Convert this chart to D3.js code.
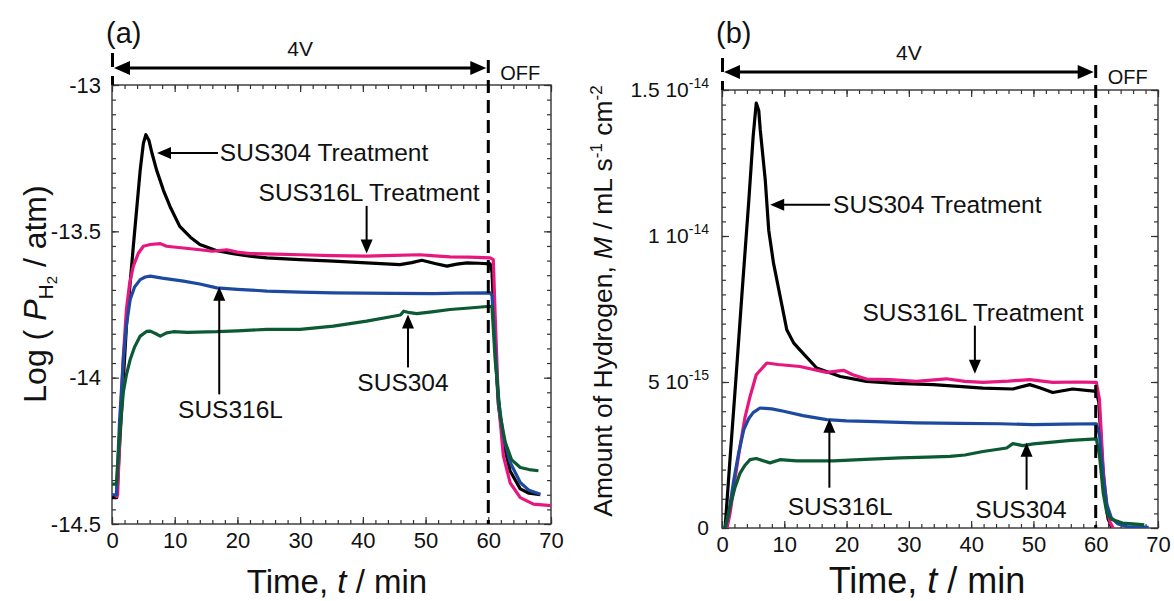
<!DOCTYPE html>
<html>
<head>
<meta charset="utf-8">
<script src="https://cdn.jsdelivr.net/npm/d3@7"></script>
<style>
body { margin: 0; background: #fff; }
svg text { font-family: Arial, "Liberation Sans", sans-serif; fill: #111; }
</style>
</head>
<body>
<svg width="1174" height="601"></svg>
<script>
// ---- panel (a): log partial pressure of H2 ----
const tA_304T = [0, 0.75, 1.5, 2.3, 3.4, 4.5, 5.0, 5.4, 5.9, 6.4, 7.1, 8.2, 9.25, 10.8, 12.5, 14, 16.5, 19.3, 22, 24.7, 30, 35.3, 40.6, 45.9, 47.8, 49.4, 51.5, 53.4, 55, 56.6, 58.5, 60.3, 60.6, 61.1, 61.6, 62.4, 63.5, 65.1, 66.5, 68.3];
const vA_304T = [-14.41, -14.41, -14.12, -13.824, -13.551, -13.29, -13.2, -13.17, -13.19, -13.235, -13.29, -13.36, -13.415, -13.483, -13.52, -13.545, -13.565, -13.576, -13.585, -13.591, -13.597, -13.602, -13.608, -13.614, -13.607, -13.599, -13.61, -13.619, -13.612, -13.608, -13.609, -13.611, -13.64, -13.9, -14.09, -14.22, -14.32, -14.38, -14.395, -14.40];
const tA_316LT = [0.6, 0.9, 1.3, 1.8, 2.3, 2.8, 3.4, 4.2, 5, 6.1, 7.7, 8.7, 11, 14, 16, 18.3, 20, 22, 26, 30, 35, 40.6, 45, 49.1, 51.5, 53.9, 57, 60.3, 60.8, 61.1, 61.6, 62.4, 63.5, 65.1, 67.2, 70];
const vA_316LT = [-14.41, -14.4, -14.165, -13.93, -13.767, -13.68, -13.619, -13.575, -13.551, -13.545, -13.542, -13.551, -13.556, -13.563, -13.568, -13.563, -13.571, -13.576, -13.578, -13.58, -13.583, -13.585, -13.582, -13.58, -13.584, -13.587, -13.588, -13.591, -13.597, -13.79, -14.074, -14.267, -14.36, -14.41, -14.432, -14.437];
const tA_316L = [0, 0.7, 1.2, 1.8, 2.3, 2.9, 3.6, 4.5, 5.3, 6.1, 8, 11.4, 14, 16.7, 20, 24.7, 30, 35.3, 40, 45, 51.3, 55, 60.3, 60.6, 61.1, 61.6, 62.4, 63.5, 65.1, 66.5, 68.3];
const vA_316L = [-14.40, -14.40, -14.15, -13.938, -13.82, -13.733, -13.69, -13.665, -13.656, -13.653, -13.66, -13.67, -13.68, -13.693, -13.698, -13.704, -13.708, -13.71, -13.711, -13.712, -13.713, -13.711, -13.71, -13.72, -13.90, -14.07, -14.20, -14.29, -14.358, -14.385, -14.398];
const tA_304 = [0, 0.7, 1.2, 1.8, 2.3, 2.9, 3.6, 4.5, 5.5, 6.1, 7.0, 7.7, 8.7, 9.8, 12, 16.7, 20, 24.7, 30, 35.3, 40.6, 44.9, 46.0, 46.5, 47.5, 48.6, 51, 53.9, 57, 60.3, 60.6, 61.1, 61.9, 62.7, 63.7, 65.1, 66.5, 68];
const vA_304 = [-14.364, -14.364, -14.2, -14.05, -13.99, -13.938, -13.895, -13.858, -13.842, -13.841, -13.85, -13.858, -13.847, -13.843, -13.845, -13.843, -13.84, -13.835, -13.835, -13.824, -13.807, -13.79, -13.786, -13.773, -13.778, -13.781, -13.775, -13.767, -13.762, -13.756, -13.76, -13.94, -14.13, -14.22, -14.28, -14.307, -14.314, -14.318];

// ---- panel (b): amount of hydrogen, in units of 1e-15 ----
const tB_304T = [0, 0.5, 1.3, 2.2, 3.2, 4.3, 5.0, 5.5, 5.9, 6.14, 6.94, 7.5, 8.27, 9.34, 10.4, 11.5, 12.5, 15.2, 19, 23.2, 28, 33.9, 38, 41.9, 46.7, 49.4, 51, 53.1, 56.3, 60.1, 60.5, 61.0, 61.5, 62.0, 62.6];
const vB_304T = [0, 0, 2.4, 5.0, 8.0, 11.2, 13.4, 14.55, 14.3, 13.64, 11.93, 10.2, 9.07, 7.93, 6.79, 6.34, 6.1, 5.48, 5.19, 5.02, 4.95, 4.91, 4.85, 4.79, 4.76, 4.91, 4.8, 4.64, 4.76, 4.68, 4.3, 2.5, 1.0, 0.3, 0];
const tB_316LT = [0, 0.8, 1.3, 2.1, 2.9, 3.7, 4.5, 5.5, 7.2, 9, 12.5, 16.8, 19.5, 21, 23.2, 27, 31.2, 36, 39, 41.9, 46, 49.4, 53.1, 57, 60.1, 60.6, 61.2, 61.8, 62.3, 62.8];
const vB_316LT = [0, 0, 0.51, 1.7, 2.8, 3.8, 4.5, 5.25, 5.65, 5.6, 5.53, 5.33, 5.4, 5.25, 5.1, 5.08, 5.02, 5.11, 5.02, 4.99, 5.03, 5.08, 4.99, 5.0, 4.99, 4.4, 2.0, 0.7, 0.2, 0];
const tB_316L = [0, 0.5, 1.0, 1.9, 2.7, 3.5, 4.3, 5, 6.1, 8, 9.9, 13, 16.8, 20, 23.2, 31.2, 38, 44.6, 49.9, 55, 60.1, 60.6, 61.2, 61.8, 62.5, 63.5, 65, 68.5];
const vB_316L = [0, 0, 0.4, 1.65, 2.6, 3.37, 3.75, 3.95, 4.11, 4.08, 4.0, 3.85, 3.71, 3.67, 3.65, 3.6, 3.58, 3.57, 3.54, 3.56, 3.57, 3.2, 1.8, 0.8, 0.35, 0.15, 0.05, 0.02];
const tB_304 = [0, 0.5, 1.3, 2.1, 2.9, 3.7, 4.5, 5.5, 7.7, 9.3, 12, 17.9, 23, 28.6, 33, 36.6, 39, 41.9, 45.7, 46.7, 48.3, 50, 52.6, 56, 60.1, 60.6, 61.2, 61.8, 62.5, 64.3, 66, 67.8];
const vB_304 = [0, 0, 0.74, 1.4, 1.88, 2.15, 2.34, 2.38, 2.23, 2.34, 2.3, 2.3, 2.35, 2.40, 2.43, 2.45, 2.5, 2.62, 2.74, 2.89, 2.82, 2.88, 2.93, 3.0, 3.05, 2.5, 1.2, 0.5, 0.3, 0.17, 0.14, 0.11];

const seriesNames = ['SUS304 Treatment', 'SUS316L Treatment', 'SUS316L', 'SUS304'];
const seriesColors = ['#000000', '#e8167f', '#1d4aa0', '#0b5a34'];

const xMajorTicks = [0, 10, 20, 30, 40, 50, 60, 70];
const xMinorTicks = d3.range(0, 70.01, 2);
const yMajorTicksA = [-14.5, -14, -13.5, -13];
const yMinorTicksA = d3.range(-14.5, -12.99, 0.05);
const yMajorTicksB = [0, 5, 10, 15];
const yMinorTicksB = d3.range(0, 15.01, 0.5);
const yTickLabelsB = [['0', ''], ['5 10', '-15'], ['1 10', '-14'], ['1.5 10', '-14']];

const svg = d3.select('svg');

function drawPanel(p) {
    const x = d3.scaleLinear().domain([0, 70]).range([p.left, p.right]);
    const y = d3.scaleLinear().domain(p.yDomain).range([p.bottom, p.top]);
    const g = svg.append('g');

    const clipId = 'clip-' + p.id;
    g.append('clipPath').attr('id', clipId)
        .append('rect')
        .attr('x', p.left).attr('y', p.top)
        .attr('width', p.right - p.left).attr('height', p.bottom - p.top);

    // axes, ticks pointing inward on all four sides
    function addAxis(axis, tx, ty) {
        const a = g.append('g').attr('transform', `translate(${tx},${ty})`).call(axis);
        a.select('.domain').remove();
        a.selectAll('line').attr('stroke', '#333').attr('stroke-width', 1.2);
        a.selectAll('text').attr('font-size', 22).attr('fill', '#111')
            .attr('font-family', 'Arial, "Liberation Sans", sans-serif');
        return a;
    }
    addAxis(d3.axisBottom(x).tickValues(xMinorTicks).tickSize(-4).tickFormat(''), 0, p.bottom);
    addAxis(d3.axisBottom(x).tickValues(xMajorTicks).tickSize(-7).tickPadding(8).tickFormat(d3.format('d')), 0, p.bottom);
    addAxis(d3.axisTop(x).tickValues(xMinorTicks).tickSize(-4).tickFormat(''), 0, p.top);
    addAxis(d3.axisTop(x).tickValues(xMajorTicks).tickSize(-7).tickFormat(''), 0, p.top);
    addAxis(d3.axisLeft(y).tickValues(p.yMinor).tickSize(-4).tickFormat(''), p.left, 0);
    const yl = addAxis(d3.axisLeft(y).tickValues(p.yMajor).tickSize(-7).tickPadding(11)
        .tickFormat(p.yFormat || (d => d)), p.left, 0);
    addAxis(d3.axisRight(y).tickValues(p.yMinor).tickSize(-4).tickFormat(''), p.right, 0);
    addAxis(d3.axisRight(y).tickValues(p.yMajor).tickSize(-7).tickFormat(''), p.right, 0);
    if (p.yLabels) {
        yl.selectAll('.tick text').each(function (d, i) {
            const t = d3.select(this).text('');
            t.append('tspan').text(p.yLabels[i][0]);
            if (p.yLabels[i][1]) {
                t.append('tspan').attr('font-size', 14).attr('dy', -9).text(p.yLabels[i][1]);
            }
        });
        yl.selectAll('.tick text').attr('font-size', 21).attr('x', -13);
    }

    g.append('rect')
        .attr('x', p.left).attr('y', p.top)
        .attr('width', p.right - p.left).attr('height', p.bottom - p.top)
        .attr('fill', 'none').attr('stroke', '#333').attr('stroke-width', 1.4);

    // curves
    const line = d3.line().x(d => x(d[0])).y(d => y(d[1]));
    const lg = g.append('g').attr('clip-path', `url(#${clipId})`);
    p.series.forEach((s, i) => {
        lg.append('path')
            .datum(d3.zip(s[0], s[1]))
            .attr('fill', 'none')
            .attr('stroke', seriesColors[i])
            .attr('stroke-width', 3.2)
            .attr('stroke-linejoin', 'round')
            .attr('d', line);
    });

    // voltage on / off markers
    g.append('line')
        .attr('x1', x(60)).attr('x2', x(60))
        .attr('y1', p.top - 25).attr('y2', p.bottom)
        .attr('stroke', '#000').attr('stroke-width', 3).attr('stroke-dasharray', '13,7');
    g.append('line')
        .attr('x1', x(0) + 0.5).attr('x2', x(0) + 0.5)
        .attr('y1', p.top - 32).attr('y2', p.top)
        .attr('stroke', '#000').attr('stroke-width', 3).attr('stroke-dasharray', '14,9');

    const ay = p.arrowY;
    g.append('line')
        .attr('x1', x(0) + 10).attr('x2', x(60) - 10)
        .attr('y1', ay).attr('y2', ay)
        .attr('stroke', '#000').attr('stroke-width', 3.2);
    arrowHead(g, x(0) + 2, ay, -1, 0, 16, 7);
    arrowHead(g, x(60) - 2, ay, 1, 0, 16, 7);

    g.append('text').attr('x', (x(0) + x(60)) / 2).attr('y', ay - 12)
        .attr('text-anchor', 'middle').attr('font-size', 21).text('4V');
    g.append('text').attr('x', x(60) + 12).attr('y', ay + 12)
        .attr('font-size', 20).text('OFF');

    g.append('text').attr('x', p.left - 6).attr('y', 43)
        .attr('font-size', 29).text(p.label);

    // annotations
    p.notes.forEach(n => {
        const x0 = x(n.from[0]), y0 = y(n.from[1]);
        const x1 = x(n.to[0]), y1 = y(n.to[1]);
        const len = Math.hypot(x1 - x0, y1 - y0);
        const ux = (x1 - x0) / len, uy = (y1 - y0) / len;
        g.append('line')
            .attr('x1', x0).attr('y1', y0)
            .attr('x2', x1 - ux * 10).attr('y2', y1 - uy * 10)
            .attr('stroke', '#000').attr('stroke-width', 2);
        arrowHead(g, x1, y1, ux, uy, 14, 6);
        g.append('text')
            .attr('x', x(n.text[0])).attr('y', y(n.text[1]))
            .attr('text-anchor', n.anchor)
            .attr('dominant-baseline', 'central')
            .attr('font-size', 24.5)
            .text(n.name);
    });

    return { x, y };
}

function arrowHead(g, tx, ty, ux, uy, len, half) {
    const bx = tx - ux * len, by = ty - uy * len;
    const px = -uy, py = ux;
    const path = d3.path();
    path.moveTo(tx, ty);
    path.lineTo(bx + px * half, by + py * half);
    path.lineTo(bx - px * half, by - py * half);
    path.closePath();
    g.append('path').attr('d', path.toString()).attr('fill', '#000');
}

drawPanel({
    id: 'a', label: '(a)',
    left: 112, right: 551, top: 85, bottom: 524,
    yDomain: [-14.5, -13], yMajor: yMajorTicksA, yMinor: yMinorTicksA,
    arrowY: 68,
    series: [[tA_304T, vA_304T], [tA_316LT, vA_316LT], [tA_316L, vA_316L], [tA_304, vA_304]],
    notes: [
        { name: seriesNames[0], from: [16.9, -13.232], to: [7.18, -13.232], text: [17.2, -13.232], anchor: 'start' },
        { name: seriesNames[1], from: [40.6, -13.413], to: [40.6, -13.576], text: [41.0, -13.368], anchor: 'middle' },
        { name: seriesNames[2], from: [17.1, -14.057], to: [17.1, -13.689], text: [18.9, -14.108], anchor: 'middle' },
        { name: seriesNames[3], from: [47.2, -13.965], to: [47.2, -13.784], text: [46.4, -14.016], anchor: 'middle' }
    ]
});

drawPanel({
    id: 'b', label: '(b)',
    left: 722, right: 1158, top: 90, bottom: 528,
    yDomain: [0, 15], yMajor: yMajorTicksB, yMinor: yMinorTicksB, yLabels: yTickLabelsB,
    arrowY: 72,
    series: [[tB_304T, vB_304T], [tB_316LT, vB_316LT], [tB_316L, vB_316L], [tB_304, vB_304]],
    notes: [
        { name: seriesNames[0], from: [17.36, 11.07], to: [7.74, 11.07], text: [17.84, 11.07], anchor: 'start' },
        { name: seriesNames[1], from: [40.6, 6.93], to: [40.6, 5.28], text: [40.3, 7.38], anchor: 'middle' },
        { name: seriesNames[2], from: [17.24, 1.38], to: [17.24, 3.74], text: [18.96, 0.74], anchor: 'middle' },
        { name: seriesNames[3], from: [48.9, 1.31], to: [48.9, 2.92], text: [48.0, 0.63], anchor: 'middle' }
    ]
});

// axis titles
const titleA = svg.append('text')
    .attr('transform', 'translate(46,294) rotate(-90)')
    .attr('text-anchor', 'middle').attr('font-size', 32);
titleA.append('tspan').text('Log ( ');
titleA.append('tspan').attr('font-style', 'italic').text('P');
titleA.append('tspan').attr('font-size', 21).attr('dy', 7).text('H');
titleA.append('tspan').attr('font-size', 15).attr('dy', 4).text('2');
titleA.append('tspan').attr('dy', -11).text(' / atm)');

const titleB = svg.append('text')
    .attr('transform', 'translate(612,301) rotate(-90)')
    .attr('text-anchor', 'middle').attr('font-size', 26.5);
titleB.append('tspan').text('Amount of Hydrogen, ');
titleB.append('tspan').attr('font-style', 'italic').text('M');
titleB.append('tspan').text(' / mL s');
titleB.append('tspan').attr('font-size', 17).attr('dy', -10).text('-1');
titleB.append('tspan').attr('dy', 10).text(' cm');
titleB.append('tspan').attr('font-size', 17).attr('dy', -10).text('-2');

[[337, 33], [927, 36]].forEach(([cx, fs]) => {
    const t = svg.append('text').attr('x', cx).attr('y', 593)
        .attr('text-anchor', 'middle').attr('font-size', fs);
    t.append('tspan').text('Time, ');
    t.append('tspan').attr('font-style', 'italic').text('t');
    t.append('tspan').text(' / min');
});
</script>
</body>
</html>
